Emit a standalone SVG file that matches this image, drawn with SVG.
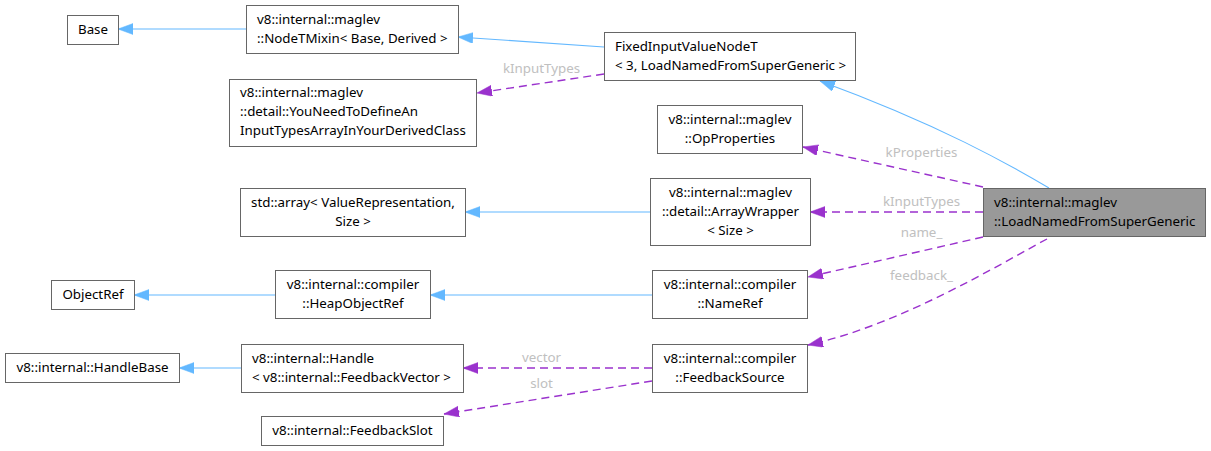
<svg xmlns="http://www.w3.org/2000/svg" width="1211" height="451" viewBox="0 0 1211 451">
<style>
.box{fill:#ffffff;stroke:#666666;stroke-width:1}
.hl{fill:#999999;stroke:#666666;stroke-width:1}
text{font-family:"Noto Sans","DejaVu Sans",sans-serif;font-size:13.33px;fill:#000000}
.c{text-anchor:middle}
.lbl{fill:#c0c0c0;text-anchor:middle}
.inh{fill:none;stroke:#63b8ff;stroke-width:1.1}
.use{fill:none;stroke:#9a32cd;stroke-width:1.4;stroke-dasharray:8,5}
</style>
<defs>
<marker id="ab" markerUnits="userSpaceOnUse" markerWidth="16" markerHeight="12" refX="15" refY="5.5" orient="auto">
<path d="M0,0 L15,5.5 L0,11 Z" fill="#63b8ff" stroke="#63b8ff" stroke-width="0.5"/>
</marker>
<marker id="ap" markerUnits="userSpaceOnUse" markerWidth="16" markerHeight="12" refX="15" refY="5.5" orient="auto">
<path d="M0,0 L15,5.5 L0,11 Z" fill="#9a32cd" stroke="#9a32cd" stroke-width="0.5"/>
</marker>
</defs>
<g id="edges">
<path class="inh" marker-end="url(#ab)" d="M246,29 L118,29"/>
<path class="inh" marker-end="url(#ab)" d="M604,47 L458,37"/>
<path class="use" marker-end="url(#ap)" d="M604,74 L477,93"/>
<text class="lbl" x="541.5" y="73">kInputTypes</text>
<path class="inh" marker-end="url(#ab)" d="M1049,188 C1010,165 940,125 820,81"/>
<path class="use" marker-end="url(#ap)" d="M983,187 L803,147"/>
<text class="lbl" x="921.5" y="157">kProperties</text>
<path class="use" marker-end="url(#ap)" d="M983,212 L810,212"/>
<text class="lbl" x="921.5" y="206">kInputTypes</text>
<path class="inh" marker-end="url(#ab)" d="M650,212 L465,212"/>
<path class="use" marker-end="url(#ap)" d="M983,237 L808,277"/>
<text class="lbl" x="921.5" y="237">name_</text>
<path class="use" marker-end="url(#ap)" d="M1047,239 C1000,264 900,325 808,345"/>
<text class="lbl" x="921.5" y="280">feedback_</text>
<path class="inh" marker-end="url(#ab)" d="M652,295 L430,295"/>
<path class="inh" marker-end="url(#ab)" d="M275,295 L134,295"/>
<path class="inh" marker-end="url(#ab)" d="M241,368 L179,368"/>
<path class="use" marker-end="url(#ap)" d="M652,368 L463,368"/>
<text class="lbl" x="541.5" y="362">vector</text>
<path class="use" marker-end="url(#ap)" d="M652,381 L444,414"/>
<text class="lbl" x="541.5" y="388">slot</text>
</g>
<g id="Base">
<rect class="box" x="67.5" y="15.5" width="51" height="29"/>
<text class="c" x="93" y="34">Base</text>
</g>
<g id="NodeTMixin">
<rect class="box" x="246.5" y="5.5" width="212" height="48"/>
<text x="257" y="23.5">v8::internal::maglev</text>
<text x="257" y="42.5">::NodeTMixin&lt; Base, Derived &gt;</text>
</g>
<g id="YouNeedToDefine">
<rect class="box" x="229.5" y="79.5" width="247" height="67"/>
<text x="240" y="97">v8::internal::maglev</text>
<text x="240" y="116">::detail::YouNeedToDefineAn</text>
<text x="240" y="135">InputTypesArrayInYourDerivedClass</text>
</g>
<g id="FixedInputValueNodeT">
<rect class="box" x="604.5" y="32.5" width="251" height="48"/>
<text x="615" y="50.5">FixedInputValueNodeT</text>
<text x="615" y="69.5">&lt; 3, LoadNamedFromSuperGeneric &gt;</text>
</g>
<g id="OpProperties">
<rect class="box" x="657.5" y="105.5" width="145" height="48"/>
<text class="c" x="730" y="123.5">v8::internal::maglev</text>
<text class="c" x="730" y="142.5">::OpProperties</text>
</g>
<g id="LoadNamedFromSuperGeneric">
<rect class="hl" x="983.5" y="188.5" width="222" height="48"/>
<text x="994" y="206.5">v8::internal::maglev</text>
<text x="994" y="225.5">::LoadNamedFromSuperGeneric</text>
</g>
<g id="ArrayWrapper">
<rect class="box" x="650.5" y="178.5" width="160" height="67"/>
<text class="c" x="730.5" y="196.5">v8::internal::maglev</text>
<text class="c" x="730.5" y="215.5">::detail::ArrayWrapper</text>
<text class="c" x="730.5" y="234.5">&lt; Size &gt;</text>
</g>
<g id="StdArray">
<rect class="box" x="240.5" y="188.5" width="225" height="48"/>
<text class="c" x="353" y="206.5">std::array&lt; ValueRepresentation,</text>
<text class="c" x="353" y="225.5">Size &gt;</text>
</g>
<g id="ObjectRef">
<rect class="box" x="51.5" y="280.5" width="83" height="29"/>
<text class="c" x="93" y="299">ObjectRef</text>
</g>
<g id="HeapObjectRef">
<rect class="box" x="275.5" y="270.5" width="155" height="48"/>
<text class="c" x="353" y="288.5">v8::internal::compiler</text>
<text class="c" x="353" y="307.5">::HeapObjectRef</text>
</g>
<g id="NameRef">
<rect class="box" x="652.5" y="270.5" width="155" height="48"/>
<text class="c" x="730" y="288.5">v8::internal::compiler</text>
<text class="c" x="730" y="307.5">::NameRef</text>
</g>
<g id="HandleBase">
<rect class="box" x="5.5" y="353.5" width="174" height="29"/>
<text class="c" x="92.5" y="372">v8::internal::HandleBase</text>
</g>
<g id="Handle">
<rect class="box" x="241.5" y="344.5" width="222" height="48"/>
<text x="252" y="362.5">v8::internal::Handle</text>
<text x="252" y="381.5">&lt; v8::internal::FeedbackVector &gt;</text>
</g>
<g id="FeedbackSource">
<rect class="box" x="652.5" y="344.5" width="155" height="48"/>
<text class="c" x="730" y="362.5">v8::internal::compiler</text>
<text class="c" x="730" y="381.5">::FeedbackSource</text>
</g>
<g id="FeedbackSlot">
<rect class="box" x="261.5" y="416.5" width="182" height="29"/>
<text class="c" x="352.5" y="435">v8::internal::FeedbackSlot</text>
</g>
</svg>
